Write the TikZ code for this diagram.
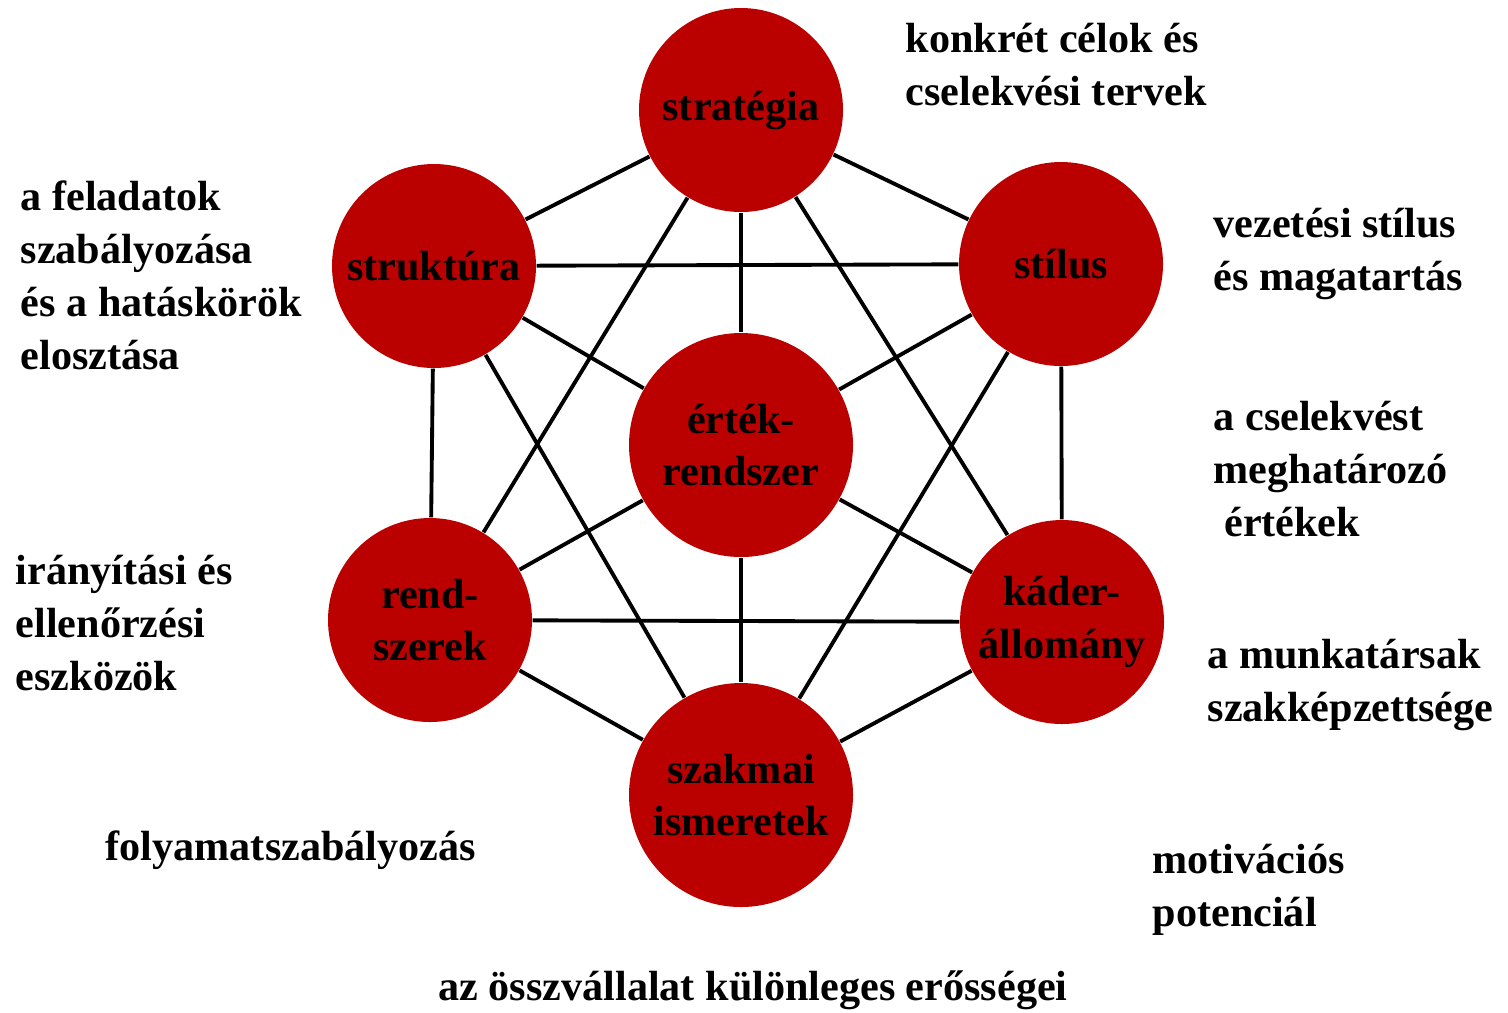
\documentclass[tikz,border=0pt]{standalone}
\usepackage{fontspec}
\setmainfont{Liberation Serif}
\usetikzlibrary{positioning}
\definecolor{sred}{RGB}{187,0,0}
\tikzset{
  elem/.style={circle, fill=sred, minimum size=2.04cm, inner sep=0pt, align=center, font=\fontsize{12}{15}\selectfont\bfseries},
  bigelem/.style={elem, minimum size=2.24cm},
  note/.style={anchor=base west, inner sep=0pt, align=left, font=\fontsize{12}{15}\selectfont\bfseries},
  link/.style={line width=1.1pt}
}

\begin{document}
\begin{tikzpicture}[x=1cm, y=-1cm]
        \useasboundingbox (0,0) rectangle (15.08,10.12);

        % elements
        \node[elem] (strategia) at (7.41,1.10) {strat\'egia};
        \node[elem] (struktura) at (4.34,2.66) {strukt\'ura};
        \node[elem] (stilus) at (10.61,2.64) {st\'ilus};
        \node[bigelem] (ertek) at (7.41,4.45) {\'ert\'ek-\\rendszer};
        \node[elem] (rendszerek) at (4.30,6.20) {rend-\\szerek};
        \node[elem] (kader) at (10.62,6.22) {k\'ader-\\\'allom\'any};
        \node[bigelem] (szakmai) at (7.41,7.95) {szakmai\\ismeretek};

        % links
        \draw[link] (strategia) -- (struktura);
        \draw[link] (strategia) -- (stilus);
        \draw[link] (strategia) -- (ertek);
        \draw[link] (strategia) -- (rendszerek);
        \draw[link] (strategia) -- (kader);

        \draw[link] (struktura) -- (stilus);
        \draw[link] (struktura) -- (ertek);
        \draw[link] (struktura) -- (rendszerek);
        \draw[link] (struktura) -- (szakmai);

        \draw[link] (stilus) -- (ertek);
        \draw[link] (stilus) -- (kader);
        \draw[link] (stilus) -- (szakmai);

        \draw[link] (ertek) -- (rendszerek);
        \draw[link] (ertek) -- (kader);
        \draw[link] (ertek) -- (szakmai);

        \draw[link] (rendszerek) -- (kader);
        \draw[link] (rendszerek) -- (szakmai);
        \draw[link] (kader) -- (szakmai);

        % notes (anchored at the last line)
        \node[note] (nStrategia) at (9.05,1.05) {konkrét célok és\\cselekvési tervek};
        \node[note] (nStruktura) at (0.20,3.69) {a feladatok\\szabályozása\\és a hatáskörök\\elosztása};
        \node[note] (nStilus) at (12.13,2.90) {vezetési stílus\\és magatartás};
        \node[note] (nErtek) at (12.13,5.36) {a cselekvést\\meghatározó\\\hspace{3pt}értékek};
        \node[note] (nRendszerek) at (0.15,6.90) {irányítási és\\ellenőrzési\\eszközök};
        \node[note] (nKader) at (12.07,7.21) {a munkatársak\\szakképzettsége};
        \node[note] (nFolyamat) at (1.05,8.60) {folyamatszabályozás};
        \node[note] (nMotivacio) at (11.52,9.26) {motivációs\\potenciál};
        \node[note, anchor=base] (nErosseg) at (7.53,10.00) {az összvállalat különleges erősségei};
\end{tikzpicture}
\end{document}
